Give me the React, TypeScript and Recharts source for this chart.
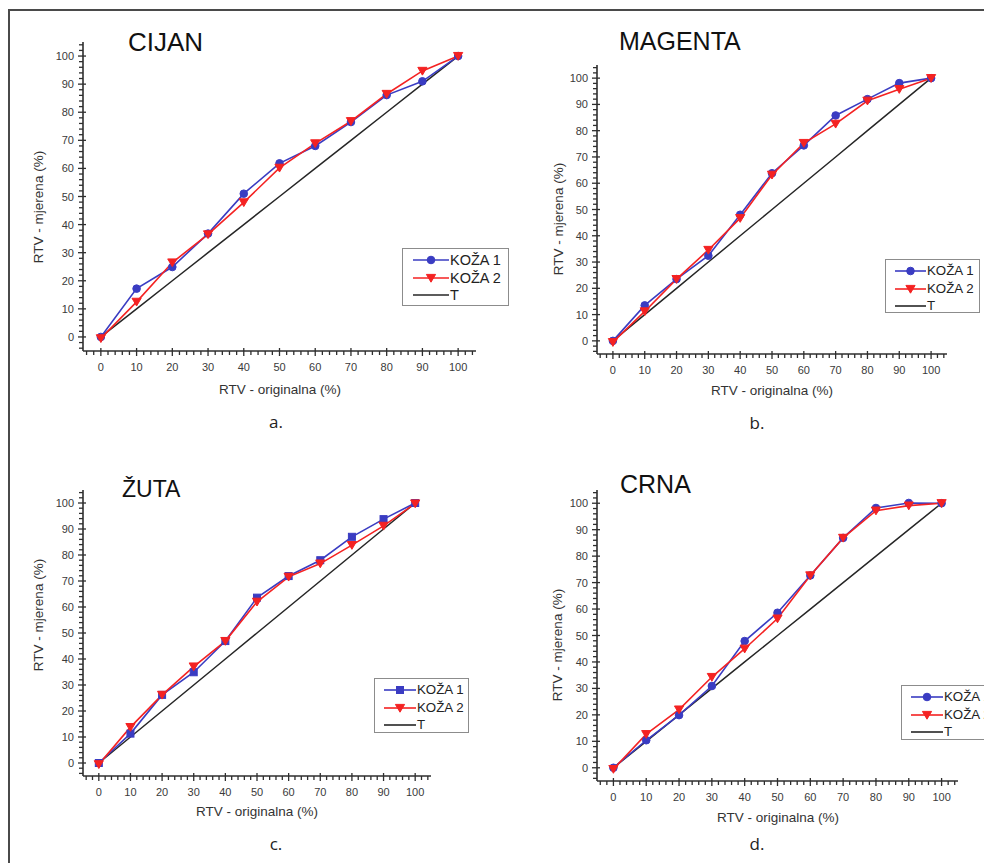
import { LineChart, Line, XAxis, YAxis, Legend } from 'recharts';

// RTV - originalna (%) points
const rtv = [0, 10, 20, 30, 40, 50, 60, 70, 80, 90, 100];
const tValues = [0, 10, 20, 30, 40, 50, 60, 70, 80, 90, 100];

const cijanKoza1 = [0, 17.2, 24.9, 36.8, 51, 61.8, 68, 76.5, 86.1, 91, 100];
const cijanKoza2 = [-0.5, 12.5, 26.5, 36.5, 47.9, 60.2, 68.9, 76.8, 86.5, 94.7, 100];

const magentaKoza1 = [0, 13.5, 23.5, 32.4, 48, 63.8, 74.4, 85.8, 92, 98.1, 100];
const magentaKoza2 = [-0.5, 11.2, 23.5, 34.6, 46.7, 63.2, 75.3, 82.6, 91.4, 95.8, 100];

const zutaKoza1 = [0, 11.3, 26.2, 34.9, 46.9, 63.6, 71.9, 78, 87, 93.8, 100];
const zutaKoza2 = [-0.5, 13.8, 26.2, 37.1, 46.9, 62, 71.6, 76.7, 83.8, 91.2, 99.8];

const crnaKoza1 = [0, 10.4, 19.9, 30.9, 47.9, 58.6, 72.7, 86.9, 98.2, 100.1, 100];
const crnaKoza2 = [-0.5, 12.7, 22, 34.3, 45, 56.4, 72.7, 86.9, 97.2, 99.1, 100];

const majorTicks = [0, 10, 20, 30, 40, 50, 60, 70, 80, 90, 100];
const minorTicks = Array.from({ length: 55 }, (_, i) => -4 + i * 2);

const seriesNames = ['KOŽA 1', 'KOŽA 2', 'T'];

const BLUE = '#3a3cc2';
const RED = '#f42222';
const BLACK = '#262626';
const AXIS = '#2e2e2e';
const FONT = '"Liberation Sans", Arial, sans-serif';

const makeRows = (k1: number[], k2: number[]) =>
  rtv.map((x, i) => ({ x, k1: k1[i], k2: k2[i], t: tValues[i] }));

function XTick(props: any) {
  const { x, y, payload } = props;
  const v = payload.value;
  const major = majorTicks.includes(v);
  return (
    <g>
      <line x1={x} x2={x} y1={major ? y - 3 : y} y2={y + (major ? 5 : 4)} stroke={AXIS} strokeWidth={1.3} />
      {major && (
        <text x={x} y={y + 20} textAnchor="middle" fontSize={11} fill="#3a3a3a" fontFamily={FONT}>
          {v}
        </text>
      )}
    </g>
  );
}

function YTick(props: any) {
  const { x, y, payload } = props;
  const v = payload.value;
  const major = majorTicks.includes(v);
  return (
    <g>
      <line x1={x - (major ? 5 : 4)} x2={major ? x + 3 : x} y1={y} y2={y} stroke={AXIS} strokeWidth={1.3} />
      {major && (
        <text x={x - 9} y={y} dy={4} textAnchor="end" fontSize={11} fill="#3a3a3a" fontFamily={FONT}>
          {v}
        </text>
      )}
    </g>
  );
}

function Marker({ kind, cx, cy, color }: { kind: string; cx: number; cy: number; color: string }) {
  if (kind === 'circle') return <circle cx={cx} cy={cy} r={3.8} fill={color} stroke={color} />;
  if (kind === 'square')
    return <rect x={cx - 3.5} y={cy - 3.5} width={7} height={7} fill={color} stroke={color} />;
  return (
    <polygon
      points={`${cx - 4.6},${cy - 3.6} ${cx + 4.6},${cy - 3.6} ${cx},${cy + 4.2}`}
      fill={color}
      stroke={color}
    />
  );
}

const dotFor = (kind: string, color: string) => (p: any) =>
  <Marker key={`d-${p.index}`} kind={kind} cx={p.cx} cy={p.cy} color={color} />;

interface PanelProps {
  data: { x: number; k1: number; k2: number; t: number }[];
  plot: { left: number; top: number; width: number; height: number };
  legend: { left: number; top: number; width: number; height: number; fontSize: number; s0: number; s1: number };
  marker1: string;
}

const YW = 60;
const XH = 50;
const MT = 10;
const MR = 10;

function Panel({ data, plot, legend, marker1 }: PanelProps) {
  const chartLeft = plot.left - YW;
  const chartTop = plot.top - MT;
  const markers = [marker1, 'triangle', ''];
  const colors = [BLUE, RED, BLACK];
  return (
    <div style={{ position: 'absolute', left: chartLeft, top: chartTop }}>
      <LineChart
        width={plot.width + YW + MR}
        height={plot.height + MT + XH}
        data={data}
        margin={{ top: MT, right: MR, left: 0, bottom: 0 }}
      >
        <XAxis
          dataKey="x"
          type="number"
          domain={[-5, 105]}
          ticks={minorTicks}
          interval={0}
          tickSize={0}
          tickMargin={0}
          tick={<XTick />}
          axisLine={{ stroke: AXIS, strokeWidth: 1.6 }}
          height={XH}
        />
        <YAxis
          type="number"
          domain={[-5, 105]}
          ticks={minorTicks}
          interval={0}
          tickSize={0}
          tickMargin={0}
          tick={<YTick />}
          axisLine={{ stroke: AXIS, strokeWidth: 1.6 }}
          width={YW}
        />
        <Legend
          verticalAlign="middle"
          align="center"
          layout="horizontal"
          wrapperStyle={{ left: legend.left - chartLeft, top: legend.top - chartTop, width: legend.width }}
          content={() => (
            <div
              style={{
                position: 'relative',
                width: legend.width,
                height: legend.height,
                border: '1px solid #8c8c8c',
                boxSizing: 'border-box',
                background: '#fff',
                fontFamily: FONT,
                fontSize: legend.fontSize,
                color: '#222',
              }}
            >
              {seriesNames.map((name, i) => {
                const cyRow = 11 + i * 17.5;
                return (
                  <div key={name} style={{ position: 'absolute', left: 0, top: cyRow - 9, height: 18, whiteSpace: 'nowrap' }}>
                    <svg width={legend.s1 + 2} height={18} style={{ position: 'absolute', left: 0, top: 0 }}>
                      <line x1={legend.s0} x2={legend.s1} y1={9} y2={9} stroke={colors[i]} strokeWidth={1.6} />
                      {markers[i] && (
                        <Marker kind={markers[i]} cx={(legend.s0 + legend.s1) / 2} cy={9} color={colors[i]} />
                      )}
                    </svg>
                    <span style={{ position: 'absolute', left: legend.s1 + 1, top: 0, lineHeight: '18px' }}>{name}</span>
                  </div>
                );
              })}
            </div>
          )}
        />
        <Line dataKey="t" name="T" stroke={BLACK} strokeWidth={1.5} dot={false} isAnimationActive={false} />
        <Line
          dataKey="k1"
          name="KOŽA 1"
          stroke={BLUE}
          strokeWidth={1.6}
          dot={dotFor(marker1, BLUE)}
          isAnimationActive={false}
        />
        <Line
          dataKey="k2"
          name="KOŽA 2"
          stroke={RED}
          strokeWidth={1.6}
          dot={dotFor('triangle', RED)}
          isAnimationActive={false}
        />
      </LineChart>
    </div>
  );
}

const titles = [
  { text: 'CIJAN', x: 128, y: 51, size: 26 },
  { text: 'MAGENTA', x: 619, y: 50, size: 25 },
  { text: 'ŽUTA', x: 122, y: 497, size: 23 },
  { text: 'CRNA', x: 620, y: 493, size: 25 },
];

const yLabels = [
  { x: 43, y: 207 },
  { x: 563, y: 219 },
  { x: 43, y: 615 },
  { x: 562, y: 645 },
];

const xLabels = [
  { x: 280, y: 394 },
  { x: 772, y: 395 },
  { x: 257, y: 816 },
  { x: 778, y: 822 },
];

const captions = [
  { text: 'a.', x: 276, y: 428 },
  { text: 'b.', x: 757, y: 429 },
  { text: 'c.', x: 276, y: 850 },
  { text: 'd.', x: 757, y: 850 },
];

export default function App() {
  return (
    <div
      style={{
        position: 'absolute',
        left: 0,
        top: 0,
        width: 984,
        height: 863,
        overflow: 'hidden',
        background: '#fff',
      }}
    >
      <div
        style={{
          position: 'absolute',
          left: 8,
          top: 9,
          width: 1000,
          height: 900,
          borderTop: '2px solid #4a4a4a',
          borderLeft: '2px solid #4a4a4a',
        }}
      />
      <Panel
        data={makeRows(cijanKoza1, cijanKoza2)}
        plot={{ left: 83, top: 42, width: 393, height: 309 }}
        legend={{ left: 402, top: 248, width: 107, height: 58, fontSize: 14.5, s0: 10, s1: 46 }}
        marker1="circle"
      />
      <Panel
        data={makeRows(magentaKoza1, magentaKoza2)}
        plot={{ left: 597, top: 65, width: 350, height: 289 }}
        legend={{ left: 885, top: 259, width: 95, height: 54, fontSize: 13.3, s0: 9, s1: 40 }}
        marker1="circle"
      />
      <Panel
        data={makeRows(zutaKoza1, zutaKoza2)}
        plot={{ left: 83, top: 490, width: 348, height: 286 }}
        legend={{ left: 374, top: 678, width: 95, height: 55, fontSize: 13.3, s0: 9, s1: 41 }}
        marker1="square"
      />
      <Panel
        data={makeRows(crnaKoza1, crnaKoza2)}
        plot={{ left: 597, top: 490, width: 361, height: 291 }}
        legend={{ left: 901, top: 685, width: 95, height: 55, fontSize: 13.3, s0: 9, s1: 41 }}
        marker1="circle"
      />
      <svg
        width={984}
        height={863}
        style={{ position: 'absolute', left: 0, top: 0, pointerEvents: 'none' }}
      >
        {titles.map((t) => (
          <text key={t.text} x={t.x} y={t.y} fontSize={t.size} fontFamily={FONT} fill="#111">
            {t.text}
          </text>
        ))}
        {yLabels.map((l, i) => (
          <text
            key={`y${i}`}
            x={l.x}
            y={l.y}
            transform={`rotate(-90 ${l.x} ${l.y})`}
            textAnchor="middle"
            fontSize={13.5}
            fontFamily={FONT}
            fill="#333"
          >
            RTV - mjerena (%)
          </text>
        ))}
        {xLabels.map((l, i) => (
          <text key={`x${i}`} x={l.x} y={l.y} textAnchor="middle" fontSize={13.5} fontFamily={FONT} fill="#333">
            RTV - originalna (%)
          </text>
        ))}
        {captions.map((c) => (
          <text key={c.text} x={c.x} y={c.y} textAnchor="middle" fontSize={17} fontFamily='"Open Sans", sans-serif' fill="#222">
            {c.text}
          </text>
        ))}
      </svg>
    </div>
  );
}
